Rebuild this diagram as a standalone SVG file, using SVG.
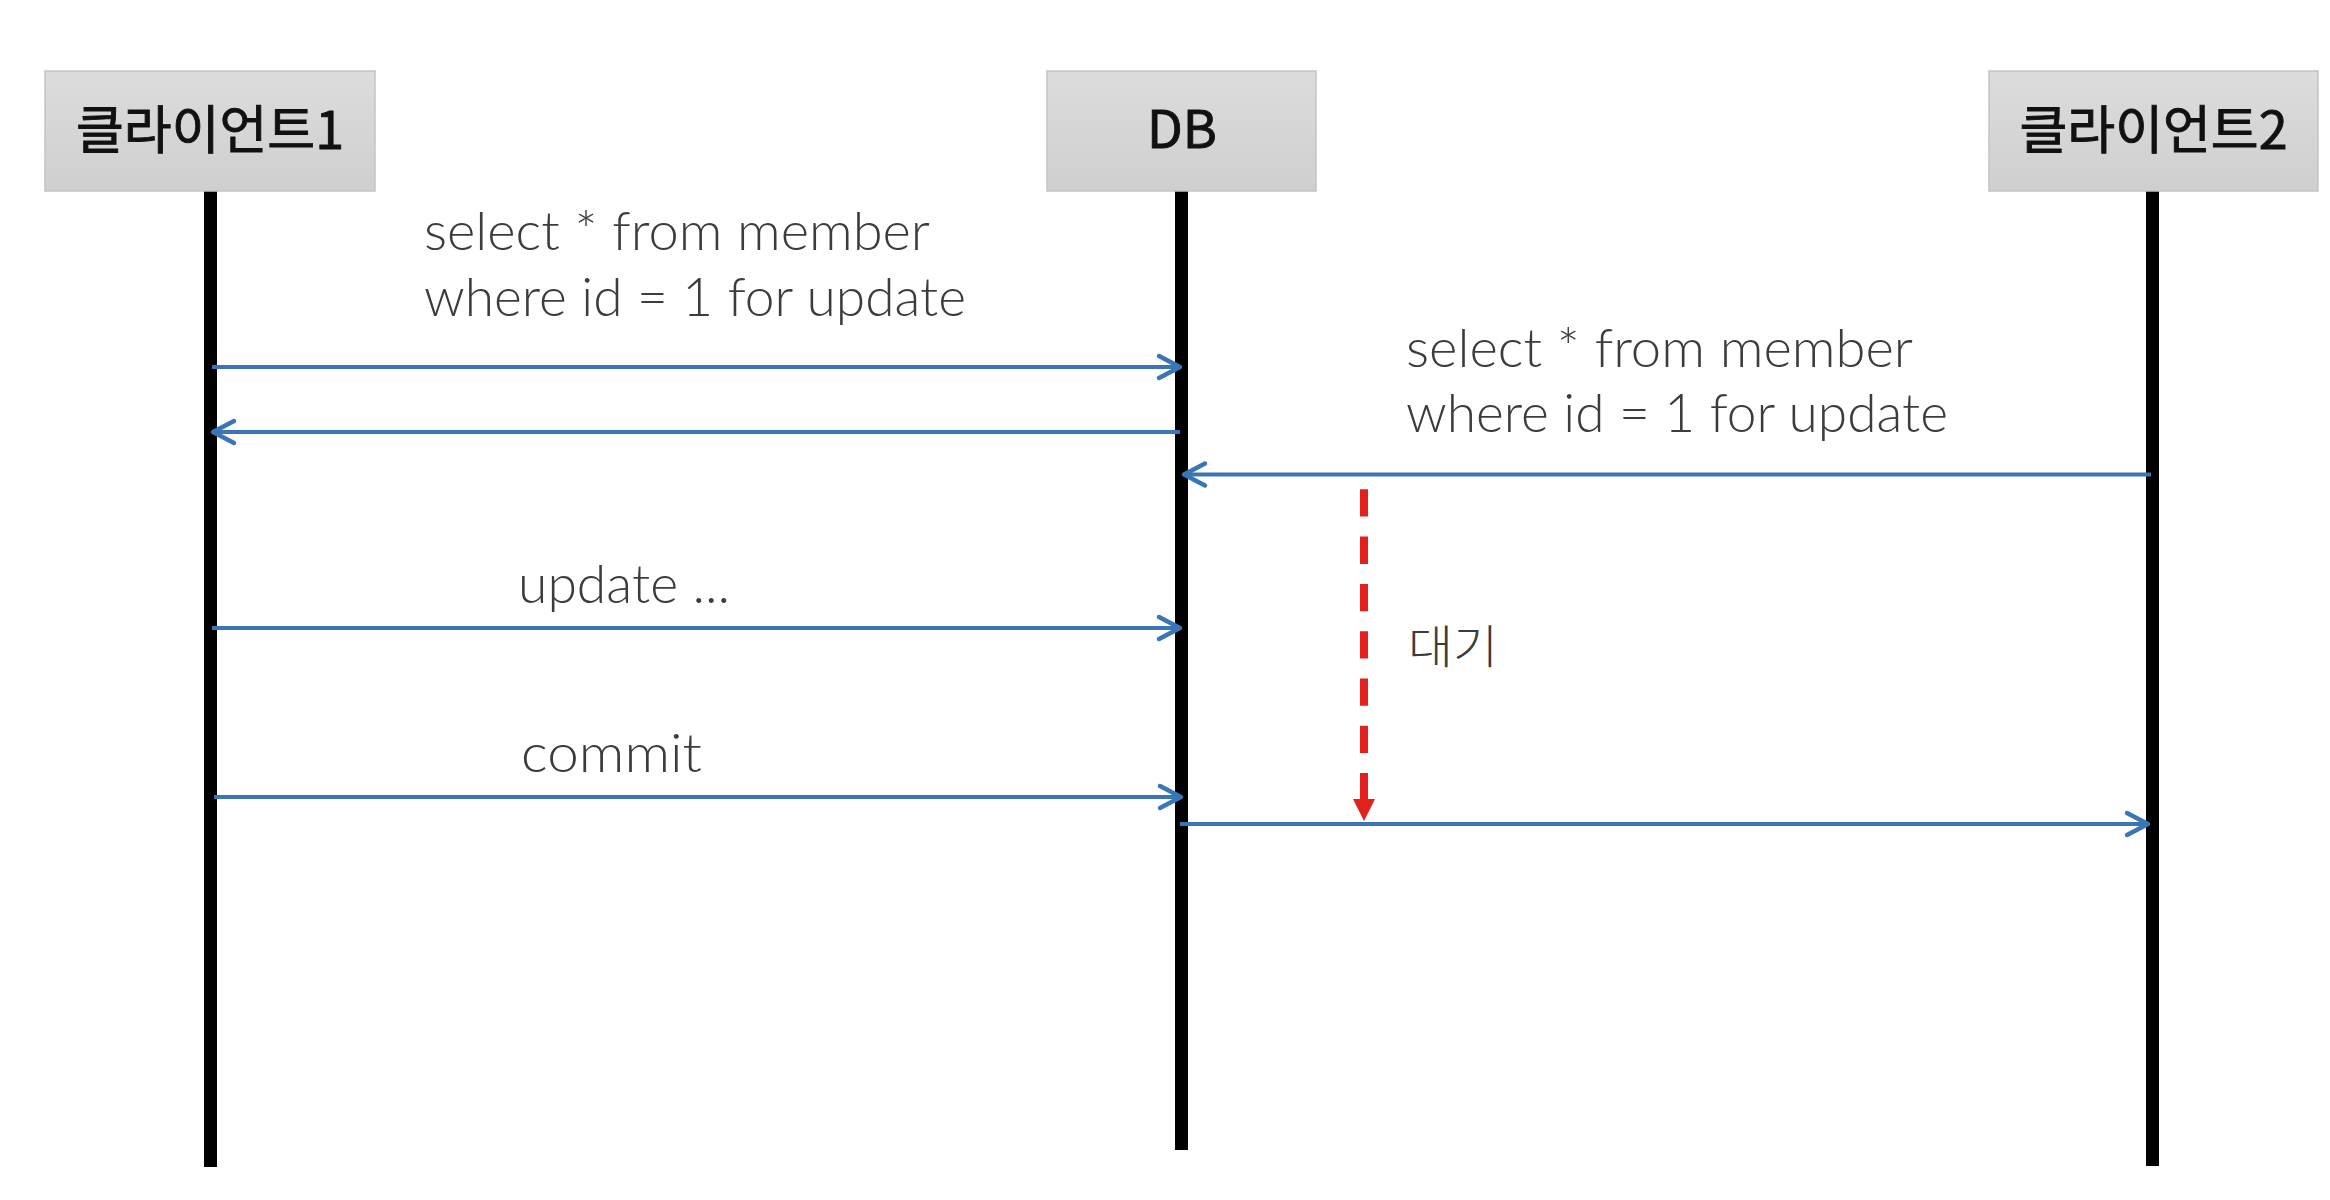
<svg xmlns="http://www.w3.org/2000/svg" width="2330" height="1200" viewBox="0 0 2330 1200">
  <style>
    .box { fill: url(#boxGrad); stroke: #c4c4c4; stroke-width: 1.5; }
    .head { font-family: "Noto Sans CJK KR", "Noto Sans", sans-serif; font-size: 52px; fill: #111; stroke: #111; stroke-width: 0.9; text-anchor: middle; }
    .life { stroke: #000; stroke-width: 13; }
    .msg { stroke: #3a76b5; stroke-width: 4; fill: none; }
    .lbl { font-family: "Lato", "Open Sans", "Noto Sans CJK KR", sans-serif; font-weight: 300; font-size: 53px; fill: #3c3c3c; }
    .wait { stroke: #e3201c; stroke-width: 8; stroke-dasharray: 27.3 20; fill: none; }
  </style>
  <defs>
    <linearGradient id="boxGrad" x1="0" y1="0" x2="0" y2="1">
      <stop offset="0" stop-color="#dcdcdc"/>
      <stop offset="1" stop-color="#cfcfcf"/>
    </linearGradient>
    <marker id="openArrow" markerUnits="userSpaceOnUse" markerWidth="40" markerHeight="40" viewBox="-30 -20 40 40" refX="0" refY="0" orient="auto">
      <path d="M-21,-11 L0,0 L-21,11" fill="none" stroke="#3a76b5" stroke-width="4.5" stroke-linecap="round" stroke-linejoin="round"/>
    </marker>
  </defs>
  <rect width="2330" height="1200" fill="#fff"/>

  <g id="client1">
    <line class="life" x1="210.5" y1="191" x2="210.5" y2="1167"/>
    <rect class="box" x="45" y="71" width="330" height="120"/>
    <text class="head" x="210" y="149">클라이언트1</text>
  </g>
  <g id="db">
    <line class="life" x1="1181.5" y1="191" x2="1181.5" y2="1150"/>
    <rect class="box" x="1047" y="71" width="269" height="120"/>
    <text class="head" x="1182" y="148">DB</text>
  </g>
  <g id="client2">
    <line class="life" x1="2152.5" y1="191" x2="2152.5" y2="1166"/>
    <rect class="box" x="1989" y="71" width="329" height="120"/>
    <text class="head" x="2153.5" y="149">클라이언트2</text>
  </g>

  <g id="connectors">
    <line class="msg" x1="212" y1="367" x2="1180" y2="367" marker-end="url(#openArrow)"/>
    <line class="msg" x1="1180" y1="432" x2="213" y2="432" marker-end="url(#openArrow)"/>
    <line class="msg" x1="2151" y1="474.5" x2="1184" y2="474.5" marker-end="url(#openArrow)"/>
    <line class="msg" x1="212" y1="628" x2="1180" y2="628" marker-end="url(#openArrow)"/>
    <line class="msg" x1="214" y1="797" x2="1181" y2="797" marker-end="url(#openArrow)"/>
    <line class="msg" x1="1180" y1="824" x2="2148" y2="824" marker-end="url(#openArrow)"/>
    <line class="wait" x1="1364" y1="489.3" x2="1364" y2="800" />
    <path d="M1353,799 L1375,799 L1364,821 Z" fill="#e3201c"/>
  </g>

  <g id="labels">
    <text class="lbl" x="424" y="250" textLength="506" lengthAdjust="spacingAndGlyphs">select * from member</text>
    <text class="lbl" x="424" y="316" textLength="542" lengthAdjust="spacingAndGlyphs">where id = 1 for update</text>
    <text class="lbl" x="1406" y="367" textLength="507" lengthAdjust="spacingAndGlyphs">select * from member</text>
    <text class="lbl" x="1406" y="432" textLength="542" lengthAdjust="spacingAndGlyphs">where id = 1 for update</text>
    <text class="lbl" x="518" y="603" textLength="212" lengthAdjust="spacingAndGlyphs">update ...</text>
    <text class="lbl" x="521" y="772" textLength="181" lengthAdjust="spacingAndGlyphs">commit</text>
    <text class="lbl" x="1408" y="663" textLength="90" lengthAdjust="spacingAndGlyphs" style="font-family: 'Noto Sans CJK KR', sans-serif; font-size: 46px;">대기</text>
  </g>
</svg>
